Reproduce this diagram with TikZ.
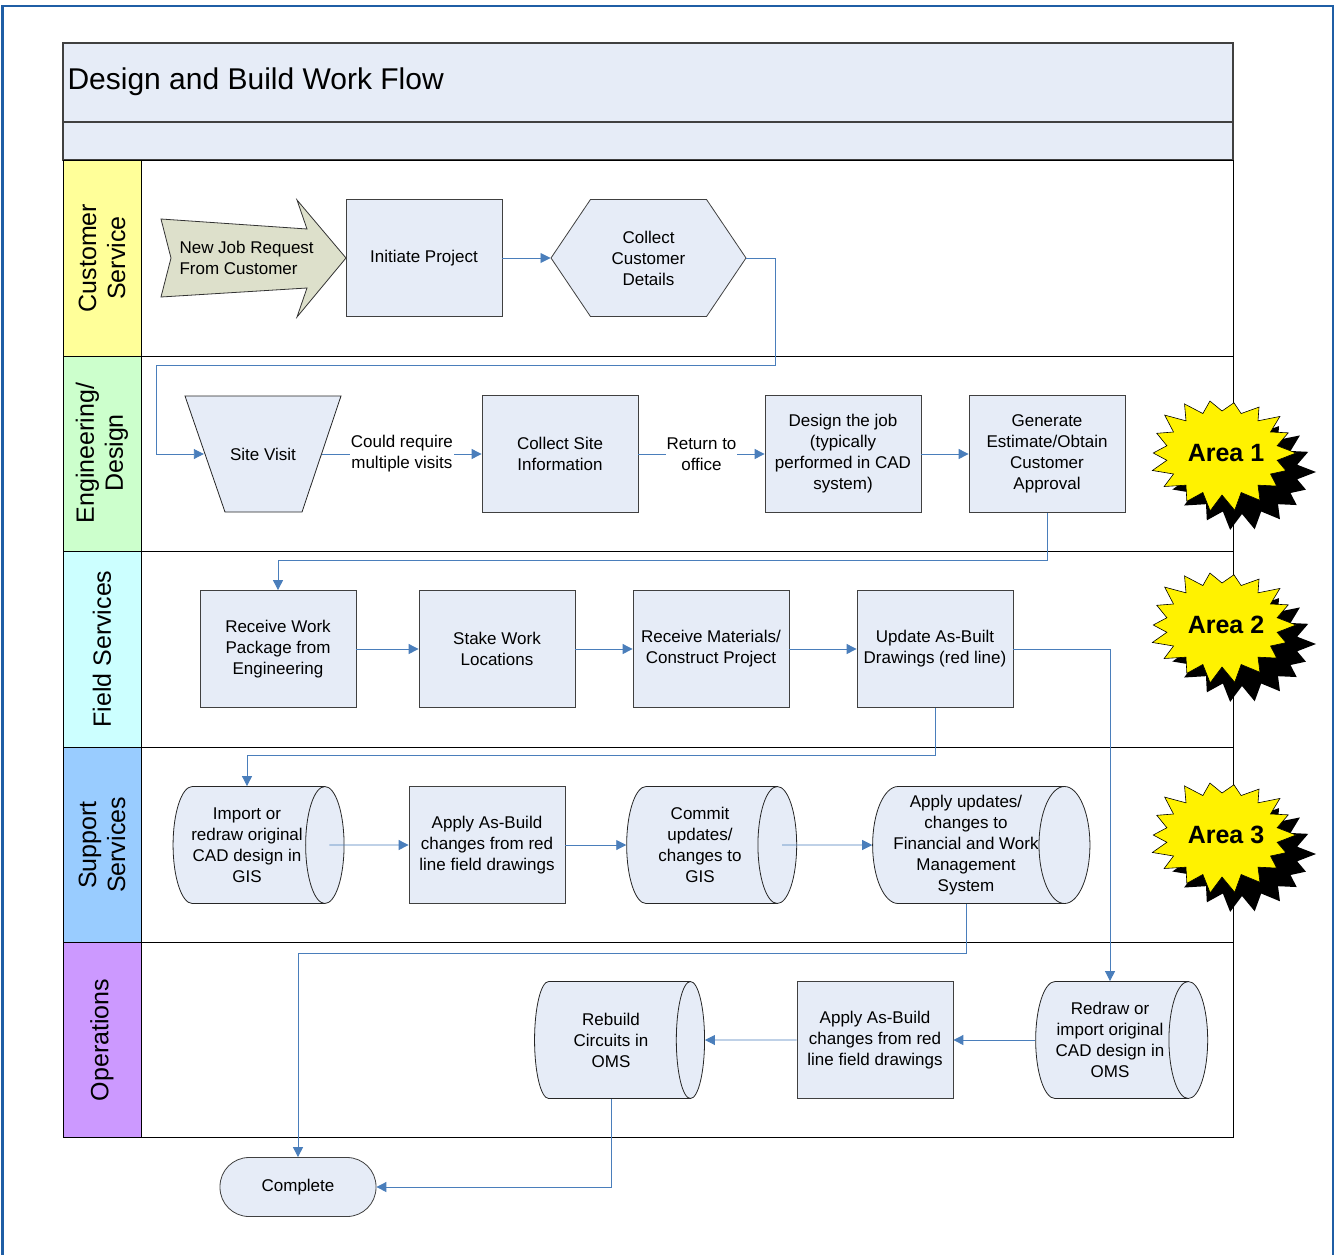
\documentclass[tikz,border=0pt]{standalone}
\usepackage{fontspec}
\setmainfont{Liberation Sans}
\usetikzlibrary{shapes.geometric,shapes.symbols,arrows.meta,calc}

\definecolor{boxfill}{RGB}{230,236,247}
\definecolor{flowblue}{RGB}{74,126,187}
\definecolor{frameblue}{RGB}{31,94,165}
\definecolor{jobfill}{RGB}{221,224,203}
\definecolor{laneyellow}{RGB}{255,255,153}
\definecolor{lanegreen}{RGB}{204,255,204}
\definecolor{lanecyan}{RGB}{204,255,255}
\definecolor{laneblue}{RGB}{153,204,255}
\definecolor{lanepurple}{RGB}{204,153,255}

% burst outline round the origin
\newcommand{\burstpath}{(74,0) \foreach \i in {1,...,35}{
    -- ({(mod(\i,2)==0 ? 72+4*sin(\i*137) : 56)*cos(\i*10)},
        {(mod(\i,2)==0 ? 55+4*sin(\i*151) : 42)*sin(\i*10)})} -- cycle}

\begin{document}
\begin{tikzpicture}[x=1pt, y=-1pt,
    % Node styles
    stepbox/.style={
        rectangle,
        draw=black!75,
        line width=0.8pt,
        fill=boxfill,
        minimum width=156pt,
        minimum height=117pt,
        inner sep=2pt,
        align=center,
        font=\fontsize{17}{21}\selectfont
    },
    storebox/.style={
        cylinder,
        aspect=0.5,
        draw=black!85,
        line width=0.8pt,
        fill=boxfill,
        minimum height=#1,
        minimum width=117pt,
        inner xsep=0pt,
        inner ysep=1pt,
        align=center,
        font=\fontsize{17}{21}\selectfont
    },
    lanetext/.style={
        rotate=90,
        align=center,
        font=\fontsize{25}{29}\selectfont
    },
    lanehead/.style={
        fill=#1,
        draw=black,
        line width=1pt
    },
    flow/.style={
        -{Triangle[length=10pt,width=10pt]},
        line width=0.9pt,
        color=flowblue
    },
    flowlabel/.style={
        fill=white,
        text=black,
        inner sep=1pt,
        align=center,
        font=\fontsize{17}{21}\selectfont
    },
    areatext/.style={
        font=\fontsize{25}{29}\selectfont\bfseries
    }
]
\useasboundingbox (0,0) rectangle (1338,1255);

% ===== Frame and pool =====

\draw[frameblue, line width=2.5pt] (2.5,1258) -- (2.5,6) -- (1333,6) -- (1333,1258);

\fill[boxfill] (63,43) rectangle (1233,160);
\draw[black!75, line width=1.5pt] (63,43) rectangle (1233,160);
\draw[black!75, line width=1.5pt] (63,122) -- (1233,122);
\node[anchor=west, font=\fontsize{30}{34}\selectfont] (title) at (64,82)
    {Design and Build Work Flow};

\draw[lanehead=laneyellow] (63,160) rectangle (141,356);
\draw[lanehead=lanegreen] (63,356) rectangle (141,551);
\draw[lanehead=lanecyan] (63,551) rectangle (141,747);
\draw[lanehead=laneblue] (63,747) rectangle (141,942);
\draw[lanehead=lanepurple] (63,942) rectangle (141,1137);

\draw[line width=1pt] (63,160) rectangle (1233,1137);
\draw[line width=1pt] (141,356) -- (1233,356);
\draw[line width=1pt] (141,551) -- (1233,551);
\draw[line width=1pt] (141,747) -- (1233,747);
\draw[line width=1pt] (141,942) -- (1233,942);

\node[lanetext] (lanecs) at (102,258) {Customer\\Service};
\node[lanetext] (laneeng) at (102,453) {Engineering/\\Design};
\node[lanetext] (lanefs) at (102,649) {Field Services};
\node[lanetext] (laness) at (102,845) {Support\\Services};
\node[lanetext] (laneops) at (102,1040) {Operations};

% ===== Customer Service =====

\draw[fill=jobfill, draw=black!80, line width=0.8pt]
    (161,219) -- (307,229) -- (297,200) -- (346,258) -- (297,317)
    -- (307,288) -- (161,297) -- (171,258) -- cycle;
\node[anchor=west, align=left, font=\fontsize{17}{21}\selectfont] (newjob)
    at (176,258) {New Job Request\\From Customer};

\node[stepbox] (initiate) at (424,258) {Initiate Project};

\node[stepbox, shape=signal, signal to=west and east, signal pointer angle=112,
    minimum width=195pt] (custdet) at (648.5,258) {Collect\\Customer\\Details};

% ===== Engineering / Design =====

\draw[fill=boxfill, draw=black!85, line width=0.8pt]
    (185,396) -- (341,396) -- (302,512) -- (225,512) -- cycle;
\node[font=\fontsize{17}{21}\selectfont, minimum width=118pt] (sitevisit)
    at (263,454) {Site Visit};
\node[stepbox] (siteinfo) at (560,454) {Collect Site\\Information};
\node[stepbox] (design) at (843,454) {Design the job\\(typically\\performed in CAD\\system)};
\node[stepbox] (estimate) at (1047,454) {Generate\\Estimate/Obtain\\Customer\\Approval};

% ===== Field Services =====

\node[stepbox] (package) at (278,649) {Receive Work\\Package from\\Engineering};
\node[stepbox] (stake) at (497,649) {Stake Work\\Locations};
\node[stepbox] (construct) at (711,649) {Receive Materials/\\Construct Project};
\node[stepbox] (asbuilt) at (935,649) {Update As-Built\\Drawings (red line)};

% ===== Support Services =====

\node[storebox=171pt] (gisimport) at (247,845) {Import or\\redraw original\\CAD design in\\GIS};
\node[stepbox] (gisapply) at (487,845) {Apply As-Build\\changes from red\\line field drawings};
\node[storebox=170pt] (giscommit) at (700,845) {Commit\\updates/\\changes to\\GIS};
\node[storebox=209pt] (finance) at (966,845) {Apply updates/\\changes to\\Financial and Work\\Management\\System};

% ===== Operations =====

\node[storebox=170pt] (rebuild) at (611,1040) {Rebuild\\Circuits in\\OMS};
\node[stepbox] (omsapply) at (875,1040) {Apply As-Build\\changes from red\\line field drawings};
\node[storebox=172pt] (omsimport) at (1110,1040) {Redraw or\\import original\\CAD design in\\OMS};

\node[stepbox, rounded corners=29pt, minimum height=59pt] (complete) at (298,1187) {Complete};

% ===== Connectors =====

\draw[flow] (initiate.east) -- (custdet.west);
\draw[flow] (custdet.east) -- ++(29,0) |- (156,365) |- (sitevisit.west);
\draw[flow] (sitevisit.east) -- (siteinfo.west)
    node[midway, flowlabel] {Could require\\multiple visits};
\draw[flow] (siteinfo.east) -- (design.west)
    node[midway, flowlabel] {Return to\\office};
\draw[flow] (design.east) -- (estimate.west);
\draw[flow] (estimate.south) -- ++(0,48) -| (package.north);

\draw[flow] (package.east) -- (stake.west);
\draw[flow] (stake.east) -- (construct.west);
\draw[flow] (construct.east) -- (asbuilt.west);
\draw[flow] (asbuilt.east) -| (omsimport.north);
\draw[flow] (asbuilt.south) -- ++(0,48) -| (gisimport.north);

\draw[flow] ([xshift=-15pt]gisimport.east) -- (gisapply.west);
\draw[flow] (gisapply.east) -- (giscommit.west);
\draw[flow] ([xshift=-15pt]giscommit.east) -- (finance.west);
\draw[flow] (finance.south) -- ++(0,50) -| (complete.north);

\draw[flow] (omsimport.west) -- (omsapply.east);
\draw[flow] (omsapply.west) -- (rebuild.east);
\draw[flow] (rebuild.south) |- (complete.east);

% ===== Area bursts =====

\foreach \cy/\num in {453/1, 625/2, 835/3} {
    \fill[black, shift={(1242,\cy+19)}] \burstpath;
    \filldraw[fill=yellow, draw=black, line width=0.6pt, shift={(1222,\cy)}] \burstpath;
    \node[areatext] (area\num) at (1226,\cy) {Area \num};
}

\end{tikzpicture}
\end{document}
